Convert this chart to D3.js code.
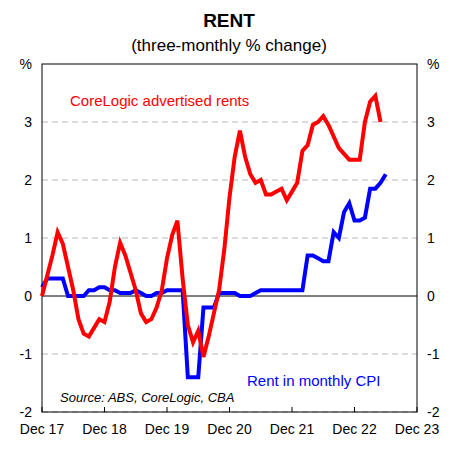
<!DOCTYPE html><html><head><meta charset="utf-8"><script src="https://cdn.jsdelivr.net/npm/d3@7"></script>
<style>body{margin:0;background:#fff}text{font-family:Arial,"Liberation Sans",sans-serif}</style></head><body><svg id="c" width="458" height="457"></svg>
<script>
const redValues=[0.0,0.35,0.7,1.1,0.9,0.5,0.1,-0.4,-0.65,-0.7,-0.55,-0.4,-0.45,-0.1,0.5,0.92,0.7,0.4,0.1,-0.3,-0.45,-0.4,-0.2,0.1,0.65,1.05,1.3,0.3,-0.5,-0.8,-0.6,-1.05,-0.7,-0.3,0.1,0.8,1.7,2.4,2.85,2.4,2.1,1.95,2.0,1.75,1.75,1.8,1.85,1.65,1.8,1.95,2.5,2.6,2.95,3.0,3.1,2.95,2.75,2.55,2.45,2.35,2.35,2.35,3.0,3.35,3.45,3.0];
const blueValues=[0.15,0.3,0.3,0.3,0.3,0.0,0.0,0.0,0.0,0.1,0.1,0.15,0.15,0.1,0.1,0.05,0.05,0.05,0.1,0.05,0.0,0.0,0.05,0.05,0.1,0.1,0.1,0.1,-1.4,-1.4,-1.4,-0.2,-0.2,-0.2,0.05,0.05,0.05,0.05,0.0,0.0,0.0,0.05,0.1,0.1,0.1,0.1,0.1,0.1,0.1,0.1,0.1,0.7,0.7,0.65,0.6,0.6,1.1,1.0,1.45,1.6,1.3,1.3,1.35,1.85,1.85,1.95,2.1];
const xTickLabels=["Dec 17","Dec 18","Dec 19","Dec 20","Dec 21","Dec 22","Dec 23"];
const yTicks=[-2,-1,0,1,2,3];
const svg=d3.select("#c");
const L=42,R=417,T=64,B=412;
const x=d3.scaleLinear().domain([0,72]).range([L,R]);
const y=d3.scaleLinear().domain([-2,4]).range([B,T]);
svg.append("text").attr("x",229).attr("y",27).attr("text-anchor","middle").attr("font-size",19).attr("font-weight","bold").text("RENT");
svg.append("text").attr("x",229).attr("y",51).attr("text-anchor","middle").attr("font-size",17).text("(three-monthly % change)");
yTicks.filter(d=>d!==0).forEach(d=>svg.append("line").attr("x1",L).attr("x2",R).attr("y1",y(d)).attr("y2",y(d)).attr("stroke","#d0d0d0").attr("stroke-width",1.5).attr("stroke-dasharray","6,4"));
svg.append("line").attr("x1",L).attr("x2",R).attr("y1",y(0)).attr("y2",y(0)).attr("stroke","#000");
svg.append("rect").attr("x",L).attr("y",T).attr("width",R-L).attr("height",B-T).attr("fill","none").attr("stroke","#000");
yTicks.forEach(d=>{svg.append("text").attr("x",L-10).attr("y",y(d)+5).attr("text-anchor","end").attr("font-size",14).text(d);
svg.append("text").attr("x",R+10).attr("y",y(d)+5).attr("text-anchor","start").attr("font-size",14).text(d);});
svg.append("text").attr("x",L-10).attr("y",y(4)+5).attr("text-anchor","end").attr("font-size",14).text("%");
svg.append("text").attr("x",R+10).attr("y",y(4)+5).attr("font-size",14).text("%");
xTickLabels.forEach((t,i)=>{svg.append("line").attr("x1",x(i*12)).attr("x2",x(i*12)).attr("y1",B).attr("y2",B-5).attr("stroke","#000");
svg.append("text").attr("x",x(i*12)).attr("y",B+22).attr("text-anchor","middle").attr("font-size",14).text(t);});
const line=d3.line().x((d,i)=>x(i)).y(d=>y(d));
svg.append("path").datum(blueValues).attr("d",line).attr("fill","none").attr("stroke","#0000ff").attr("stroke-width",4);
svg.append("path").datum(redValues).attr("d",line).attr("fill","none").attr("stroke","#ff0000").attr("stroke-width",4);
svg.append("text").attr("x",70).attr("y",106).attr("font-size",15).attr("fill","#ff0000").text("CoreLogic advertised rents");
svg.append("text").attr("x",247).attr("y",386).attr("font-size",15).attr("fill","#0000ff").text("Rent in monthly CPI");
svg.append("text").attr("x",60).attr("y",402).attr("font-size",13).attr("font-style","italic").text("Source: ABS, CoreLogic, CBA");
</script></body></html>
